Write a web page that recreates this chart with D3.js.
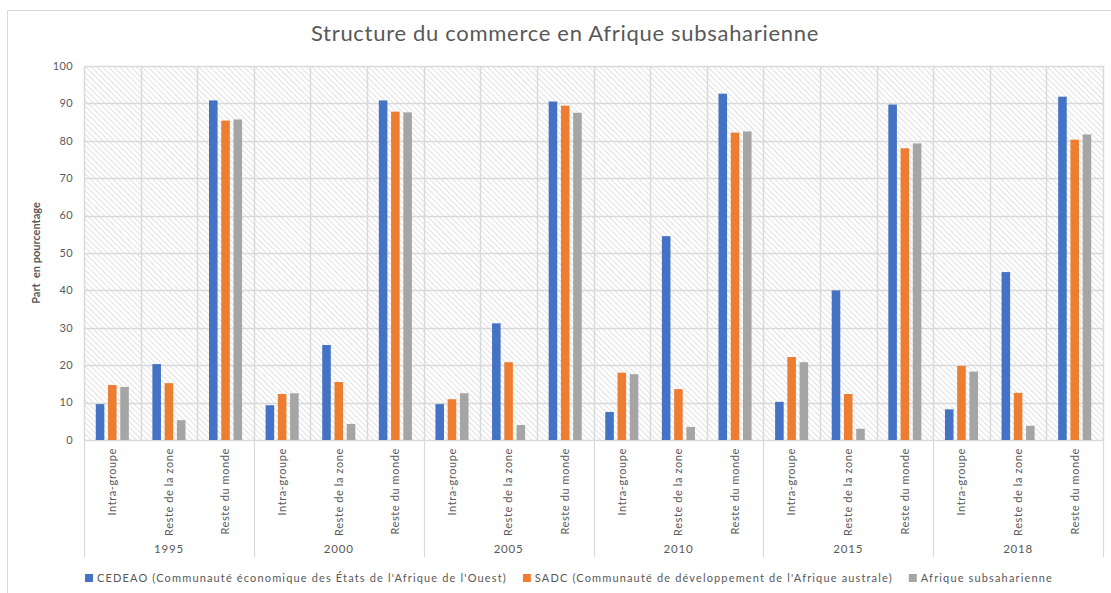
<!DOCTYPE html>
<html>
<head>
<meta charset="utf-8">
<script src="https://cdn.jsdelivr.net/npm/d3@7"></script>
<style>
  body { margin: 0; background: #fff; }
  text { font-family: Lato, "Open Sans", sans-serif; fill: #595959; }
</style>
</head>
<body>
<div id="chart"></div>
<script>
// Data
const years = ['1995', '2000', '2005', '2010', '2015', '2018'];
const zones = ['Intra-groupe', 'Reste de la zone', 'Reste du monde'];
const seriesNames = [
  "CEDEAO (Communauté économique des États de l'Afrique de l'Ouest)",
  "SADC (Communauté de développement de l'Afrique australe)",
  'Afrique subsaharienne'
];
const colors = ['#4472C4', '#ED7D31', '#A5A5A5'];

// one entry per year: [intra, reste zone, reste monde]
const cedeao = [
  [9.6, 20.3, 90.8], [9.3, 25.4, 90.8], [9.6, 31.2, 90.5],
  [7.5, 54.5, 92.6], [10.2, 40.0, 89.7], [8.2, 44.9, 91.8]
];
const sadc = [
  [14.7, 15.2, 85.4], [12.3, 15.5, 87.8], [10.9, 20.8, 89.4],
  [18.0, 13.6, 82.2], [22.2, 12.3, 78.0], [19.8, 12.6, 80.3]
];
const afss = [
  [14.2, 5.3, 85.7], [12.5, 4.3, 87.6], [12.5, 4.0, 87.5],
  [17.6, 3.5, 82.5], [20.8, 3.0, 79.3], [18.3, 3.8, 81.7]
];
const yTicks = [0, 10, 20, 30, 40, 50, 60, 70, 80, 90, 100];

const width = 1111, height = 593;
const margin = { left: 84, right: 8, top: 66, bottom: 153 };
const plotW = width - margin.left - margin.right;
const plotH = height - margin.top - margin.bottom;

const svg = d3.select('#chart').append('svg')
  .attr('width', width)
  .attr('height', height);

// outer chart border
svg.append('rect')
  .attr('x', 7.5).attr('y', 10.5)
  .attr('width', width + 20).attr('height', height + 20)
  .attr('fill', 'none').attr('stroke', '#d9d9d9');

// hatch pattern for plot background
const defs = svg.append('defs');
const pat = defs.append('pattern')
  .attr('id', 'hatch')
  .attr('patternUnits', 'userSpaceOnUse')
  .attr('width', 4).attr('height', 4)
  .attr('patternTransform', 'rotate(-45)');
pat.append('rect').attr('width', 4).attr('height', 4).attr('fill', '#fff');
pat.append('line')
  .attr('x1', 0).attr('y1', 0).attr('x2', 0).attr('y2', 4)
  .attr('stroke', '#d4d4d4').attr('stroke-width', 1.4);

// build rows
const rows = [];
years.forEach((yr, i) => {
  zones.forEach((z, j) => {
    rows.push({ key: yr + '|' + z, year: yr, zone: z, values: [cedeao[i][j], sadc[i][j], afss[i][j]] });
  });
});

const x = d3.scaleBand()
  .domain(rows.map(d => d.key))
  .range([0, plotW])
  .padding(0);

const x1 = d3.scaleBand()
  .domain([0, 1, 2])
  .range([x.bandwidth() * 0.208, x.bandwidth() * 0.792])
  .paddingInner(0.3);

const y = d3.scaleLinear()
  .domain([0, 100])
  .range([plotH, 0]);

const g = svg.append('g').attr('transform', `translate(${margin.left},${margin.top})`);

g.append('rect')
  .attr('width', plotW).attr('height', plotH)
  .attr('fill', 'url(#hatch)');

// horizontal gridlines
g.selectAll('.hgrid')
  .data(yTicks)
  .enter().append('line')
  .attr('x1', 0).attr('x2', plotW)
  .attr('y1', d => Math.round(y(d)) + 0.5)
  .attr('y2', d => Math.round(y(d)) + 0.5)
  .attr('stroke', '#d9d9d9').attr('stroke-width', 1.5);

// vertical gridlines at category boundaries
const bounds = rows.map(d => x(d.key)).concat([plotW]);
g.selectAll('.vgrid')
  .data(bounds)
  .enter().append('line')
  .attr('x1', d => Math.round(d) + 0.5).attr('x2', d => Math.round(d) + 0.5)
  .attr('y1', 0).attr('y2', plotH)
  .attr('stroke', '#d9d9d9').attr('stroke-width', 1.5);

// group separators below the axis
const groupBounds = years.map(yr => x(yr + '|' + zones[0])).concat([plotW]);
g.selectAll('.gsep')
  .data(groupBounds)
  .enter().append('line')
  .attr('x1', d => Math.round(d) + 0.5).attr('x2', d => Math.round(d) + 0.5)
  .attr('y1', plotH).attr('y2', plotH + 117)
  .attr('stroke', '#d9d9d9').attr('stroke-width', 1.2);

// bars
const cat = g.selectAll('.cat')
  .data(rows)
  .enter().append('g')
  .attr('transform', d => `translate(${x(d.key)},0)`);

cat.selectAll('rect')
  .data(d => d.values)
  .enter().append('rect')
  .attr('x', (d, i) => x1(i))
  .attr('width', x1.bandwidth())
  .attr('y', d => y(d))
  .attr('height', d => plotH - y(d))
  .attr('fill', (d, i) => colors[i]);

// y tick labels
g.selectAll('.ytick')
  .data(yTicks)
  .enter().append('text')
  .attr('x', -11)
  .attr('y', d => y(d))
  .attr('dy', '0.35em')
  .attr('text-anchor', 'end')
  .style('font-size', '11px')
  .style('letter-spacing', '0.4px')
  .text(d => d);

// y axis title
svg.append('text')
  .attr('transform', `translate(40,${margin.top + plotH / 2}) rotate(-90)`)
  .attr('text-anchor', 'middle')
  .style('font-size', '11px')
  .style('font-weight', 'bold')
  .style('white-space', 'pre')
  .text('Part  en pourcentage');

// category labels (rotated)
cat.append('text')
  .attr('transform', d => `translate(${x.bandwidth() / 2},${plotH + 8}) rotate(-90)`)
  .attr('text-anchor', 'end')
  .attr('dy', '0.35em')
  .style('font-size', '11px')
  .style('letter-spacing', '0.6px')
  .text(d => d.zone);

// year labels
g.selectAll('.year')
  .data(years)
  .enter().append('text')
  .attr('x', d => x(d + '|' + zones[1]) + x.bandwidth() / 2)
  .attr('y', plotH + 113)
  .attr('text-anchor', 'middle')
  .style('font-size', '11.5px')
  .style('letter-spacing', '0.8px')
  .text(d => d);

// title
svg.append('text')
  .attr('x', 565)
  .attr('y', 41)
  .attr('text-anchor', 'middle')
  .style('font-size', '22px')
  .style('letter-spacing', '0.7px')
  .text('Structure du commerce en Afrique subsaharienne');

// legend, laid out from measured text widths
const legend = svg.append('g');
const items = legend.selectAll('.item')
  .data(seriesNames)
  .enter().append('g');
items.append('rect')
  .attr('width', 8).attr('height', 8)
  .attr('y', -8)
  .attr('fill', (d, i) => colors[i]);
items.append('text')
  .attr('x', 12)
  .attr('y', 0)
  .style('font-size', '11px')
  .style('letter-spacing', '1.15px')
  .text(d => d);
let cursor = 0;
items.each(function() {
  const w = d3.select(this).select('text').node().getComputedTextLength() + 12;
  d3.select(this).attr('transform', `translate(${cursor},0)`);
  cursor += w + 16;
});
const legendW = cursor - 16;
legend.attr('transform', `translate(${569 - legendW / 2},582)`);
</script>
</body>
</html>
